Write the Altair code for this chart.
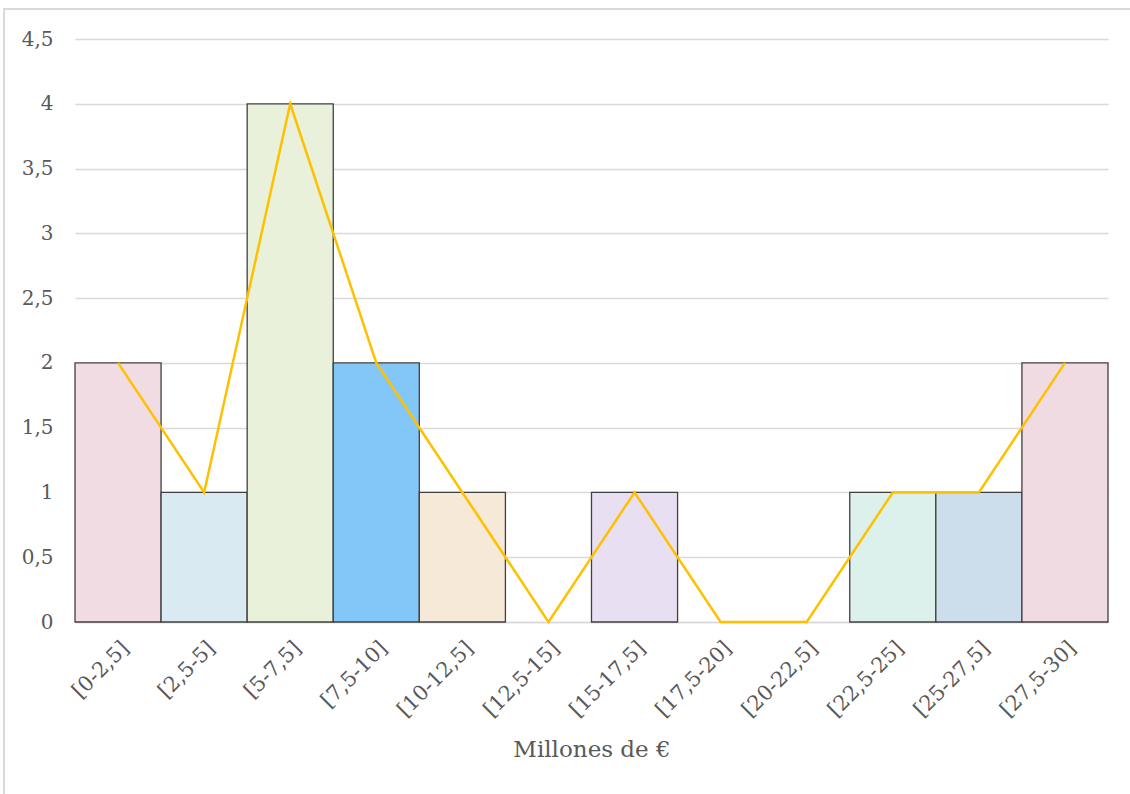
import altair as alt
import pandas as pd

# Frequency of projects by budget range (millions of euros)
bins = ["[0-2,5]", "[2,5-5]", "[5-7,5]", "[7,5-10]", "[10-12,5]", "[12,5-15]",
        "[15-17,5]", "[17,5-20]", "[20-22,5]", "[22,5-25]", "[25-27,5]", "[27,5-30]"]
counts = [2, 1, 4, 2, 1, 0, 1, 0, 0, 1, 1, 2]
fills = ["#F2DCE3", "#DAEAF3", "#E9F1DA", "#83C7F8", "#F6E9D7", "#FFFFFF",
         "#E9DFF2", "#FFFFFF", "#FFFFFF", "#DCF1EC", "#CCDEEB", "#F0DBE2"]
y_ticks = [0, 0.5, 1, 1.5, 2, 2.5, 3, 3.5, 4, 4.5]

df = pd.DataFrame({"rango": bins, "n": counts})

FONT = "DejaVu Serif"
W, H = 1033, 583

x_axis = alt.Axis(
    title="Millones de €", titleFont=FONT, titleFontSize=23,
    titleFontWeight="normal", titleColor="#595959", titlePadding=18,
    labelFont=FONT, labelFontSize=21, labelColor="#595959", labelAngle=-45,
    labelPadding=15, ticks=False, domainColor="#D9D9D9", domainWidth=1.5,
    grid=False,
)
x_enc = alt.X("rango:N", sort=bins,
              scale=alt.Scale(paddingInner=0, paddingOuter=0), axis=x_axis)
y_scale = alt.Scale(domain=[0, 4.5], nice=False)
y_axis = alt.Axis(
    title=None, values=y_ticks, format=",.1~f", labelFont=FONT, labelFontSize=20,
    labelColor="#595959", labelPadding=22, ticks=False, domain=False,
    gridColor="#D9D9D9", gridWidth=1.5,
)

frame = alt.Chart(df).mark_rect(
    fill=None, stroke="#D9D9D9", strokeWidth=2
).encode(
    x=alt.value(-71), x2=alt.value(W + 40), y=alt.value(-30), y2=alt.value(H + 200)
)

bars = alt.Chart(df).transform_filter("datum.n > 0").mark_bar(
    stroke="#404040", strokeWidth=1.3
).encode(
    x=x_enc,
    y=alt.Y("n:Q", scale=y_scale, axis=y_axis),
    fill=alt.Fill("rango:N", scale=alt.Scale(domain=bins, range=fills), legend=None),
)

line = alt.Chart(df).mark_line(color="#FFC000", strokeWidth=2.5).encode(
    x=x_enc,
    y=alt.Y("n:Q", scale=y_scale, axis=y_axis),
)

chart = alt.layer(bars, line, frame).properties(
    width=W, height=H,
    autosize=alt.AutoSizeParams(type="none"),
    padding={"left": 75, "top": 39, "right": 22, "bottom": 172},
).configure(
    locale={"number": {"decimal": ",", "thousands": ".", "grouping": [3],
                       "currency": ["", " €"]}}
).configure_view(stroke="transparent", strokeWidth=0)

chart.save("out.html", embed_options={"renderer": "svg", "actions": False})
